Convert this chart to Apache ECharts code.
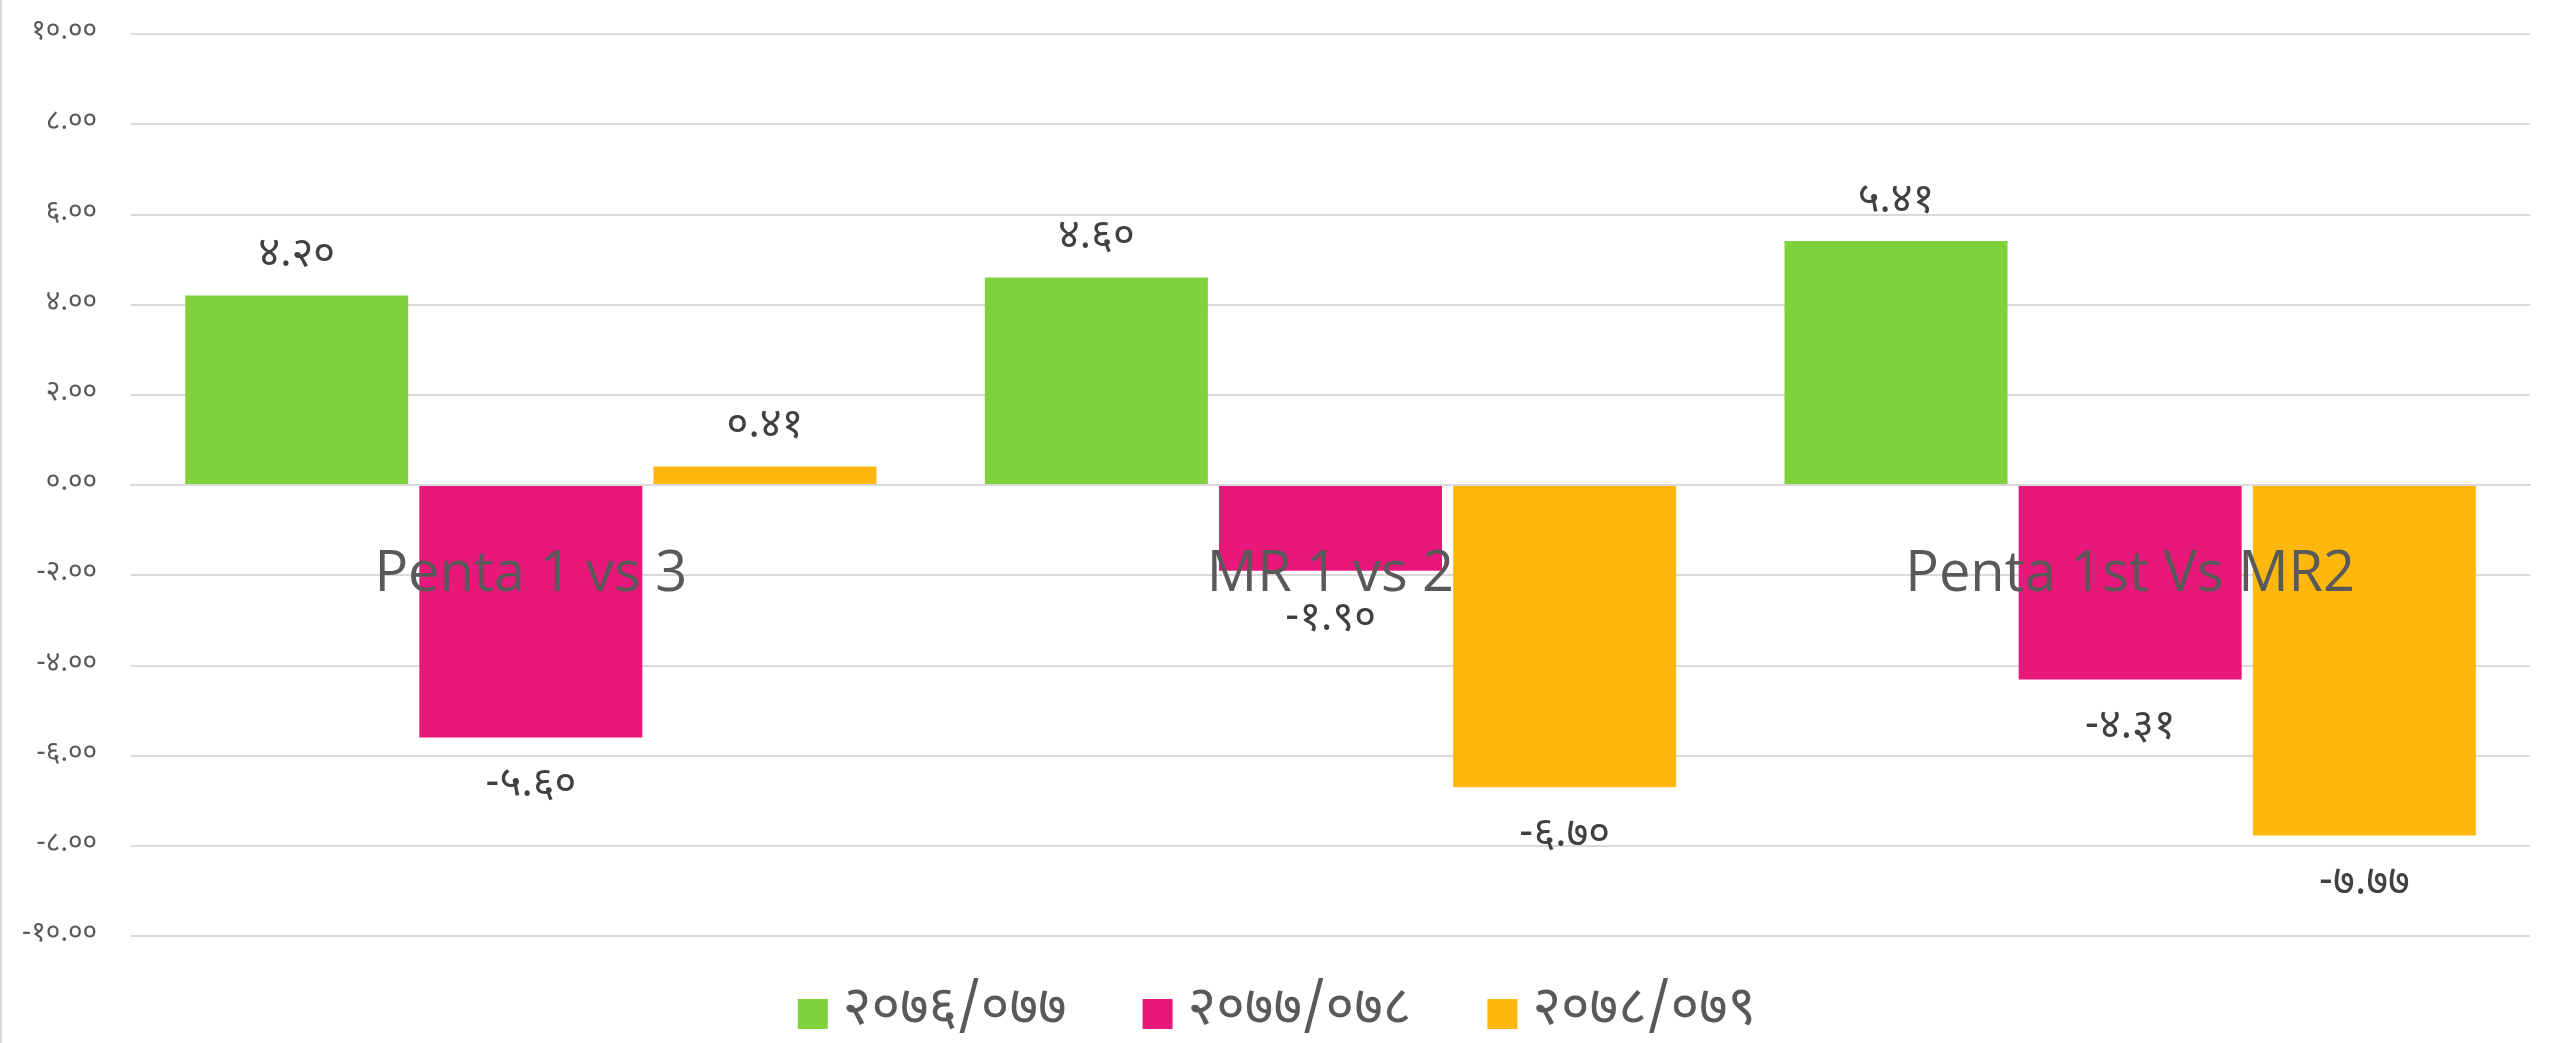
<!DOCTYPE html>
<html>
<head>
<meta charset="utf-8">
<script src="https://cdn.jsdelivr.net/npm/echarts@6/dist/echarts.min.js"></script>
<style>
html,body{margin:0;padding:0;background:#fff;}
#main{width:2552px;height:1043px;box-sizing:border-box;border-left:2px solid #d9d9d9;}
</style>
</head>
<body>
<div id="main"></div>
<script>
// 数据
var categories = ['Penta 1 vs 3', 'MR 1 vs 2', 'Penta 1st Vs MR2'];
var seriesNames = ['२०७६/०७७', '२०७७/०७८', '२०७८/०७९'];
var s1 = [4.20, 4.60, 5.41];
var s2 = [-5.60, -1.90, -4.31];
var s3 = [0.41, -6.70, -7.77];
var colors = ['#7fd23c', '#e8177a', '#fdb70d'];
var devDigits = ['०','१','२','३','४','५','६','७','८','९'];

var devFont = "'Noto Sans Devanagari','Noto Sans','Lohit Devanagari','Mangal',sans-serif";

function toDev(str){
    return String(str).replace(/[0-9]/g, function(d){ return devDigits[+d]; });
}

// 正负值 label 位置
function buildData(arr){
    var out = [];
    for(var i=0;i<arr.length;i++){
        var neg = arr[i] < 0;
        out.push({
            value: arr[i],
            label: { position: neg ? 'bottom' : 'top', distance: neg ? 30 : 16 }
        });
    }
    return out;
}

function barSeries(name, arr, idx){
    return {
        name: name,
        type: 'bar',
        barWidth: 223,
        barGap: '5%',
        itemStyle: { color: colors[idx] },
        label: {
            show: true,
            fontSize: 42,
            fontFamily: devFont,
            color: '#404040',
            formatter: function(p){ return toDev(p.value.toFixed(2)); }
        },
        data: buildData(arr)
    };
}

var chart = echarts.init(document.getElementById('main'));
var option = {
    animation: false,
    color: colors,
    grid: { left: 129, right: 22, top: 34, bottom: 107, containLabel: false },
    legend: {
        top: 981,
        left: 'center',
        itemWidth: 30,
        itemHeight: 30,
        itemGap: 76,
        icon: 'rect',
        textStyle: { fontSize: 55, lineHeight: 56, padding: [0, 0, 0, 10], color: '#595959', fontFamily: devFont },
        data: seriesNames
    },
    xAxis: {
        type: 'category',
        data: categories,
        z: 10,
        offset: -451,
        axisLine: { show: true, onZero: false, lineStyle: { color: '#d9d9d9', width: 2 } },
        axisTick: { show: false },
        axisLabel: {
            margin: 62,
            fontSize: 56,
            color: '#595959',
            fontFamily: "'Open Sans', sans-serif"
        }
    },
    yAxis: {
        type: 'value',
        min: -10,
        max: 10,
        interval: 2,
        axisLine: { show: false },
        axisTick: { show: false },
        splitLine: { lineStyle: { color: '#d9d9d9', width: 2 } },
        axisLabel: {
            margin: 34,
            fontSize: 28,
            color: '#595959',
            fontFamily: devFont,
            formatter: function(v){ return toDev(v.toFixed(2)); }
        }
    },
    series: [
        barSeries(seriesNames[0], s1, 0),
        barSeries(seriesNames[1], s2, 1),
        barSeries(seriesNames[2], s3, 2)
    ]
};
chart.setOption(option);
</script>
</body>
</html>
